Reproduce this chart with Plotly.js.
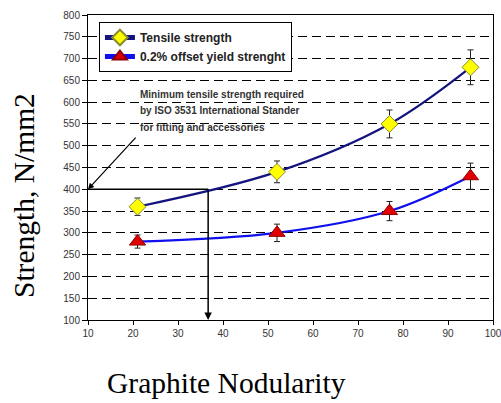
<!DOCTYPE html>
<html>
<head>
<meta charset="utf-8">
<script src="https://cdn.plot.ly/plotly-3.0.1.min.js"></script>
<style>html,body{margin:0;padding:0;background:#fff;}#chart{width:501px;height:403px;}</style>
</head>
<body>
<div id="chart"></div>
<script>
// Data
const nodularity = [21, 52, 77, 95];
const tensileStrength = [360, 440, 550, 680];
const tensileError = [20, 25, 32, 40];
const yieldStrength = [280, 300, 350, 430];
const yieldError = [15, 20, 22, 30];
const seriesNames = ["Tensile strength", "0.2% offset yield strenght"];
const xTicks = [10, 20, 30, 40, 50, 60, 70, 80, 90, 100];
const yTicks = [100, 150, 200, 250, 300, 350, 400, 450, 500, 550, 600, 650, 700, 750, 800];
const isoMinimum = [400];          // minimum tensile strength, N/mm2
const isoNodularity = [36.7];      // nodularity where curve meets the minimum
const noteAnchor = [20.9, 522];    // tail of the note arrow (x, y)
const noteLines = ["Minimum tensile strength required", "by ISO 3531 International Stander", "for fitting and accessories"];

const traces = [
  {
    x: nodularity, y: tensileStrength, name: seriesNames[0],
    mode: "lines+markers", type: "scatter",
    line: {color: "#141480", width: 2.2, shape: "spline", smoothing: 1},
    marker: {symbol: "diamond", size: 13, color: "#ffff00", line: {color: "#8a8a30", width: 1}},
    error_y: {type: "data", array: tensileError, visible: true, color: "#222", thickness: 1, width: 3}
  },
  {
    x: nodularity, y: yieldStrength, name: seriesNames[1],
    mode: "lines+markers", type: "scatter",
    line: {color: "#1010ee", width: 2.2, shape: "spline", smoothing: 1},
    marker: {symbol: "triangle-up", size: 14, color: "#e00000", line: {color: "#900000", width: 1}},
    error_y: {type: "data", array: yieldError, visible: true, color: "#222", thickness: 1, width: 3}
  }
];

const noteAnnotations = noteLines.map((t, i) => ({
  xref: "paper", yref: "paper", x: 0.123, y: (320 - (95 + 16 * i)) / 305,
  xanchor: "left", yanchor: "middle", align: "left", text: t, showarrow: false,
  font: {family: "Liberation Sans, Arial, sans-serif", size: 10, color: "#333", weight: "bold"}
}));

const layout = {
  width: 501, height: 403,
  margin: {l: 88, r: 8, t: 15, b: 83, pad: 0},
  paper_bgcolor: "#fff", plot_bgcolor: "#fff",
  font: {family: "Liberation Sans, Arial, sans-serif", size: 10, color: "#333"},
  showlegend: true,
  legend: {
    x: 0.027, y: 0.977, xanchor: "left", yanchor: "top",
    bgcolor: "#fff", bordercolor: "#000", borderwidth: 1,
    font: {family: "Liberation Sans, Arial, sans-serif", size: 12, color: "#222", weight: "bold"},
    itemwidth: 30, itemsizing: "constant", tracegroupgap: 0
  },
  xaxis: {
    range: [10, 100], tickvals: xTicks, ticktext: xTicks.map(String),
    showgrid: false, zeroline: false, showline: true, linecolor: "#000", linewidth: 1,
    mirror: true, ticks: "outside", ticklen: 4, tickcolor: "#000", ticklabeloverflow: "allow",
    tickfont: {size: 10, color: "#333"}, fixedrange: true
  },
  yaxis: {
    range: [100, 800], tickvals: yTicks, ticktext: yTicks.map(String),
    showgrid: true, gridcolor: "#000", gridwidth: 1, griddash: "9px,5px",
    zeroline: false, showline: true, linecolor: "#000", linewidth: 1,
    mirror: true, ticks: "outside", ticklen: 5, tickcolor: "#000",
    tickfont: {size: 10, color: "#333"}, fixedrange: true
  },
  shapes: [
    {type: "line", xref: "x", yref: "y", x0: xTicks[0], x1: isoNodularity[0], y0: isoMinimum[0], y1: isoMinimum[0],
     line: {color: "#000", width: 1.5}}
  ],
  annotations: [
    {xref: "x", yref: "y", x: isoNodularity[0], y: yTicks[0], ax: isoNodularity[0], ay: isoMinimum[0],
     axref: "x", ayref: "y", text: "", showarrow: true, arrowhead: 2, arrowsize: 1, arrowwidth: 1.5, arrowcolor: "#000"},
    {xref: "x", yref: "y", x: xTicks[0], y: isoMinimum[0], ax: noteAnchor[0], ay: noteAnchor[1],
     axref: "x", ayref: "y", text: "", showarrow: true, arrowhead: 2, arrowsize: 1, arrowwidth: 1.2, arrowcolor: "#000"},
    ...noteAnnotations,
    {xref: "paper", yref: "paper", x: (24 - 88) / 405, y: (320 - 196) / 305, xanchor: "center", yanchor: "middle",
     text: "Strength, N/mm2", textangle: -90, showarrow: false,
     font: {family: "Liberation Serif, Times New Roman, serif", size: 29.5, color: "#000"}},
    {xref: "paper", yref: "paper", x: (226 - 88) / 405, y: (320 - 383) / 305, xanchor: "center", yanchor: "middle",
     text: "Graphite Nodularity", showarrow: false,
     font: {family: "Liberation Serif, Times New Roman, serif", size: 29.5, color: "#000"}}
  ]
};

Plotly.newPlot("chart", traces, layout, {displayModeBar: false, staticPlot: true});
</script>
</body>
</html>
